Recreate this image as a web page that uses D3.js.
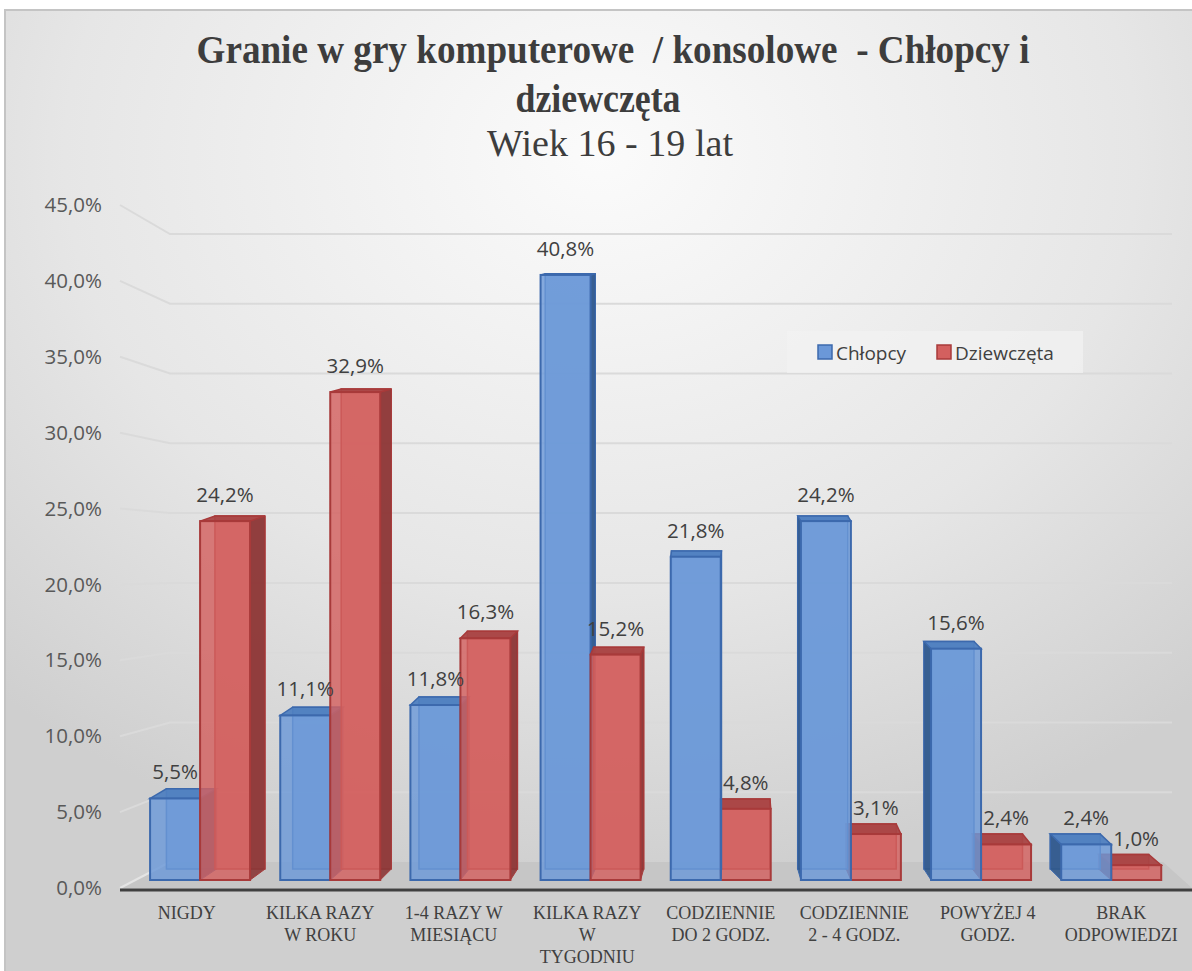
<!DOCTYPE html>
<html>
<head>
<meta charset="utf-8">
<script src="https://cdn.jsdelivr.net/npm/d3@7"></script>
<style>
  body { margin: 0; background: #fff; }
  svg { display: block; }
</style>
</head>
<body>
<div id="chart"></div>
<script>
var categories = ["NIGDY", "KILKA RAZY|W ROKU", "1-4 RAZY W|MIESIĄCU", "KILKA RAZY|W|TYGODNIU",
    "CODZIENNIE|DO 2 GODZ.", "CODZIENNIE|2 - 4 GODZ.", "POWYŻEJ 4|GODZ.", "BRAK|ODPOWIEDZI"];
var chlopcy = [5.5, 11.1, 11.8, 40.8, 21.8, 24.2, 15.6, 2.4];
var dziewczeta = [24.2, 32.9, 16.3, 15.2, 4.8, 3.1, 2.4, 1.0];
var seriesNames = ["Chłopcy", "Dziewczęta"];
var yTicks = [0, 5, 10, 15, 20, 25, 30, 35, 40, 45];

var W = 1192, H = 971;
var vpX = 720, vpY = 200;   // vanishing point of the 3d view
var floorY = 880;           // front bottom of bars

var svg = d3.select("#chart").append("svg")
    .attr("width", W).attr("height", H);

var defs = svg.append("defs");
var bg = defs.append("radialGradient").attr("id", "bg")
    .attr("cx", "50%").attr("cy", "15%").attr("r", "75%")
    .attr("fx", "50%").attr("fy", "15%");
bg.append("stop").attr("offset", "0%").attr("stop-color", "#fbfbfb");
bg.append("stop").attr("offset", "60%").attr("stop-color", "#e6e6e6");
bg.append("stop").attr("offset", "100%").attr("stop-color", "#cfcfcf");

svg.append("rect")
    .attr("x", 5).attr("y", 10).attr("width", W).attr("height", H)
    .attr("fill", "url(#bg)")
    .attr("stroke", "#c4c4c4").attr("stroke-width", 2);

// scales: front plane (axis labels), back wall (gridlines), bars
var yFront = d3.scaleLinear().domain([0, 45]).range([888, 205]);
var yBack = d3.scaleLinear().domain([0, 45]).range([862, 234]);
var yBar = d3.scaleLinear().domain([0, 45]).range([floorY, floorY - 14.83 * 45]);

var x = d3.scaleBand().domain(d3.range(categories.length)).range([120, 1188]);

var fmt = function (v) { return d3.format(".1f")(v).replace(".", ",") + "%"; };

// floor
svg.append("polygon")
    .attr("points", [[120, 888], [170, 862], [1163, 862], [1192, 888]].join(" "))
    .attr("fill", "#c6c6c6");

// gridlines
var grid = svg.append("g").attr("class", "grid");
yTicks.filter(function (d) { return d > 0; }).forEach(function (t) {
    grid.append("polyline")
        .attr("points", [[120, yFront(t)], [170, yBack(t)], [1172, yBack(t)]].join(" "))
        .attr("fill", "none")
        .attr("stroke", "#dadada")
        .attr("stroke-width", 2);
});
grid.append("line")
    .attr("x1", 120).attr("y1", 888).attr("x2", 170).attr("y2", 862)
    .attr("stroke", "#e4e4e4").attr("stroke-width", 2);

// y axis labels
var yAxis = d3.axisLeft(yFront).tickValues(yTicks).tickSize(0).tickPadding(0).tickFormat(fmt);
var gy = svg.append("g")
    .attr("transform", "translate(102,0)")
    .call(yAxis);
gy.select(".domain").remove();
gy.selectAll("text")
    .attr("font-family", "Open Sans")
    .attr("font-size", 20.5)
    .attr("fill", "#595959");

// bars
var colors = [
    {front: "#6b98d8", edge: "#3c69ad", side: "#2f5689", top: "#4f7fc0"},
    {front: "#d3605f", edge: "#a83a3a", side: "#8a3636", top: "#a94444"}
];

var bars = [];
categories.forEach(function (c, i) {
    var cx = x(i) + x.bandwidth() / 2;
    var pc = cx + (vpX - cx) * 0.025;
    bars.push({s: 0, i: i, v: chlopcy[i], x0: pc - 50, x1: pc});
    bars.push({s: 1, i: i, v: dziewczeta[i], x0: pc, x1: pc + 50});
});
bars.forEach(function (b) {
    var mid = (b.x0 + b.x1) / 2;
    b.dx = (vpX - mid) * 0.03;
    b.yt = yBar(b.v);
    b.dyTop = (vpY - b.yt) * 0.016;
    b.dyBot = (vpY - floorY) * 0.016;
});
// far from vanishing point first
bars.sort(function (a, b) {
    return Math.abs((b.x0 + b.x1) / 2 - vpX) - Math.abs((a.x0 + a.x1) / 2 - vpX);
});

var gb = svg.append("g").attr("class", "bars");
bars.forEach(function (b) {
    var col = colors[b.s];
    var g = gb.append("g");
    var bx0 = b.x0 + b.dx, bx1 = b.x1 + b.dx, byt = b.yt + b.dyTop, byb = floorY + b.dyBot;
    // back face
    g.append("polygon")
        .attr("points", [[bx0, byt], [bx1, byt], [bx1, byb], [bx0, byb]].join(" "))
        .attr("fill", col.front).attr("fill-opacity", 0.75)
        .attr("stroke", col.edge).attr("stroke-width", 1.5);
    // side face
    var sx = b.dx > 0 ? b.x1 : b.x0;
    g.append("polygon")
        .attr("points", [[sx, b.yt], [sx + b.dx, byt], [sx + b.dx, byb], [sx, floorY]].join(" "))
        .attr("fill", col.side).attr("fill-opacity", 0.9)
        .attr("stroke", col.edge).attr("stroke-width", 1);
    // top face
    g.append("polygon")
        .attr("points", [[b.x0, b.yt], [b.x1, b.yt], [bx1, byt], [bx0, byt]].join(" "))
        .attr("fill", col.top).attr("fill-opacity", 0.95)
        .attr("stroke", col.edge).attr("stroke-width", 1.5);
    // front face
    g.append("rect")
        .attr("x", b.x0).attr("y", b.yt).attr("width", b.x1 - b.x0).attr("height", floorY - b.yt)
        .attr("fill", col.front).attr("fill-opacity", 0.82)
        .attr("stroke", col.edge).attr("stroke-width", 2);
});

// value labels
svg.append("g").selectAll("text")
    .data(bars)
    .enter().append("text")
    .attr("x", function (b) { return (b.x0 + b.x1) / 2; })
    .attr("y", function (b) { return b.yt - 19; })
    .attr("text-anchor", "middle")
    .attr("font-family", "Open Sans")
    .attr("font-size", 20.5)
    .attr("fill", "#404040")
    .text(function (b) { return fmt(b.v); });

// x axis line
svg.append("line")
    .attr("x1", 120).attr("x2", 1192).attr("y1", 890).attr("y2", 890)
    .attr("stroke", "#404040").attr("stroke-width", 3);

// category labels
var gx = svg.append("g");
categories.forEach(function (c, i) {
    var t = gx.append("text")
        .attr("text-anchor", "middle")
        .attr("font-family", "Liberation Serif")
        .attr("font-size", 18)
        .attr("fill", "#404040");
    c.split("|").forEach(function (line, j) {
        t.append("tspan")
            .attr("x", x(i) + x.bandwidth() / 2)
            .attr("y", 919 + j * 22)
            .text(line);
    });
});

// title
var title = svg.append("g").attr("fill", "#3d3d3d").attr("font-family", "Liberation Serif")
    .attr("text-anchor", "middle");
title.append("text").attr("x", 613).attr("y", 63)
    .attr("font-size", 40).attr("font-weight", "bold")
    .attr("textLength", 833).attr("lengthAdjust", "spacingAndGlyphs")
    .style("white-space", "pre")
    .text("Granie w gry komputerowe  / konsolowe  - Chłopcy i");
title.append("text").attr("x", 598).attr("y", 112)
    .attr("font-size", 40).attr("font-weight", "bold")
    .attr("textLength", 165).attr("lengthAdjust", "spacingAndGlyphs")
    .text("dziewczęta");
title.append("text").attr("x", 610).attr("y", 156)
    .attr("font-size", 38)
    .attr("textLength", 246).attr("lengthAdjust", "spacingAndGlyphs")
    .text("Wiek 16 - 19 lat");

// legend
var legend = svg.append("g");
legend.append("rect")
    .attr("x", 787).attr("y", 331).attr("width", 296).attr("height", 42)
    .attr("fill", "#f2f2f2").attr("fill-opacity", 0.7);
var lx = [818, 937];
seriesNames.forEach(function (name, i) {
    legend.append("rect")
        .attr("x", lx[i]).attr("y", 345).attr("width", 14).attr("height", 14)
        .attr("fill", colors[i].front).attr("stroke", colors[i].edge).attr("stroke-width", 1.5);
    legend.append("text")
        .attr("x", lx[i] + 18).attr("y", 360)
        .attr("font-family", "Open Sans").attr("font-size", 19)
        .attr("fill", "#404040")
        .text(name);
});
</script>
</body>
</html>
